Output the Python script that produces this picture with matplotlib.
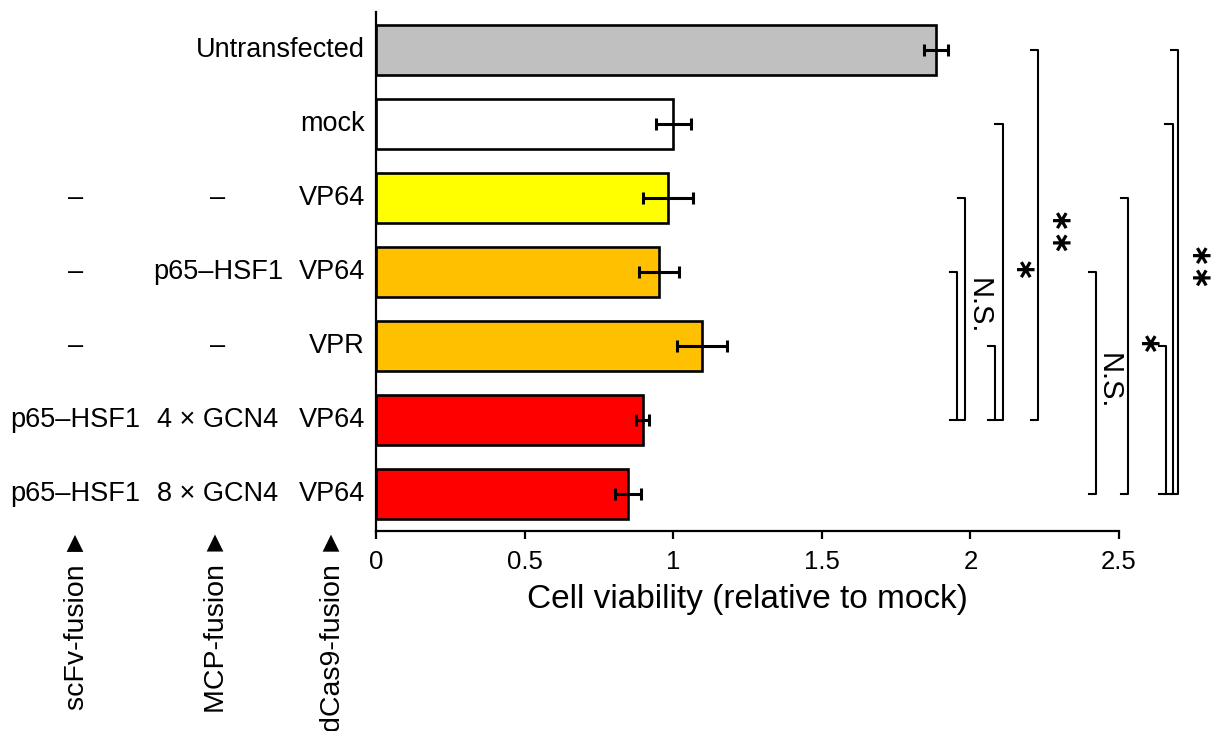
import numpy as np
import matplotlib.pyplot as plt

plt.rcParams['font.family'] = ['Liberation Sans', 'DejaVu Sans']

# ============================================================
# DATA
# ============================================================

scfv = ["", "", "–", "–", "–", "p65–HSF1", "p65–HSF1"]
mcp = ["", "", "–", "p65–HSF1", "–", "4 × GCN4", "8 × GCN4"]
dcas9 = ["Untransfected", "mock", "VP64", "VP64", "VPR", "VP64", "VP64"]

viability = [1.883, 1.000, 0.982, 0.953, 1.097, 0.897, 0.847]
err = [0.040, 0.059, 0.085, 0.068, 0.083, 0.022, 0.044]
colors = ["#c0c0c0", "#ffffff", "#ffff00", "#ffc000", "#ffc000", "#ff0000", "#ff0000"]

# significance brackets: (bottom row, top row, x position)
brackets = [
    (5, 3, 1.955), (5, 2, 1.983), (5, 4, 2.084), (5, 1, 2.108), (5, 0, 2.229),
    (6, 3, 2.424), (6, 2, 2.529), (6, 4, 2.657), (6, 1, 2.680), (6, 0, 2.700),
]
# labels: (text, x, y row)
sig_labels = [
    ("N.S.", 2.027, 3.46), ("∗", 2.168, 3.00), ("∗∗", 2.290, 2.49),
    ("N.S.", 2.466, 4.48), ("∗", 2.590, 3.99), ("∗∗", 2.762, 2.96),
]

# ============================================================
# PLOT
# ============================================================

fig = plt.figure(figsize=(12.15, 7.31), dpi=100)
ax = fig.add_axes([0.3095, 0.2736, 0.6115, 0.71])

y = np.arange(len(viability))
ax.barh(y, viability, height=0.67, color=colors, edgecolor="black", linewidth=1.9)
ax.errorbar(viability, y, xerr=err, fmt="none", ecolor="black",
            elinewidth=2.2, capsize=4.5, capthick=2.2)

ax.set_xlim(0, 2.5)
ax.set_ylim(6.5, -0.51)
ax.set_xticks([0, 0.5, 1, 1.5, 2, 2.5])
ax.set_xticklabels(["0", "0.5", "1", "1.5", "2", "2.5"])
ax.tick_params(axis="x", labelsize=18.5, width=1.6, length=6, direction="out", pad=8)
ax.set_yticks([])
ax.spines["top"].set_visible(False)
ax.spines["right"].set_visible(False)
ax.spines["left"].set_linewidth(1.6)
ax.spines["bottom"].set_linewidth(1.6)
ax.set_xlabel("Cell viability (relative to mock)", fontsize=24, labelpad=7)

# row labels
tr = ax.get_yaxis_transform()
for i in range(len(y)):
    ax.text(-0.0148, i, dcas9[i], transform=tr, ha="right", va="center", fontsize=19.5)
    ax.text(-0.2127, i, mcp[i], transform=tr, ha="center", va="center", fontsize=19.5)
    ax.text(-0.405, i, scfv[i], transform=tr, ha="center", va="center", fontsize=19.5)

# column headers (rotated)
for xp, txt in [(77, "scFv-fusion ►"), (217, "MCP-fusion ►"), (333, "dCas9-fusion ►")]:
    fig.text(xp / 1215, 1 - 528 / 731, txt, rotation=90, ha="center", va="top",
             fontsize=20.5)

# brackets
hook = 0.024
for yb, yt, xb in brackets:
    ax.plot([xb - hook, xb, xb, xb - hook], [yt, yt, yb, yb],
            color="black", linewidth=1.5, clip_on=False)

for txt, xs, ys in sig_labels:
    if txt == "N.S.":
        ax.text(xs, ys, txt, rotation=-90, ha="center", va="center",
                fontsize=21, clip_on=False)
    else:
        ax.text(xs, ys, txt, rotation=-90, ha="center", va="center",
                fontsize=20, fontweight="bold", family="DejaVu Sans", clip_on=False)

fig.savefig("out.png", dpi=100)
